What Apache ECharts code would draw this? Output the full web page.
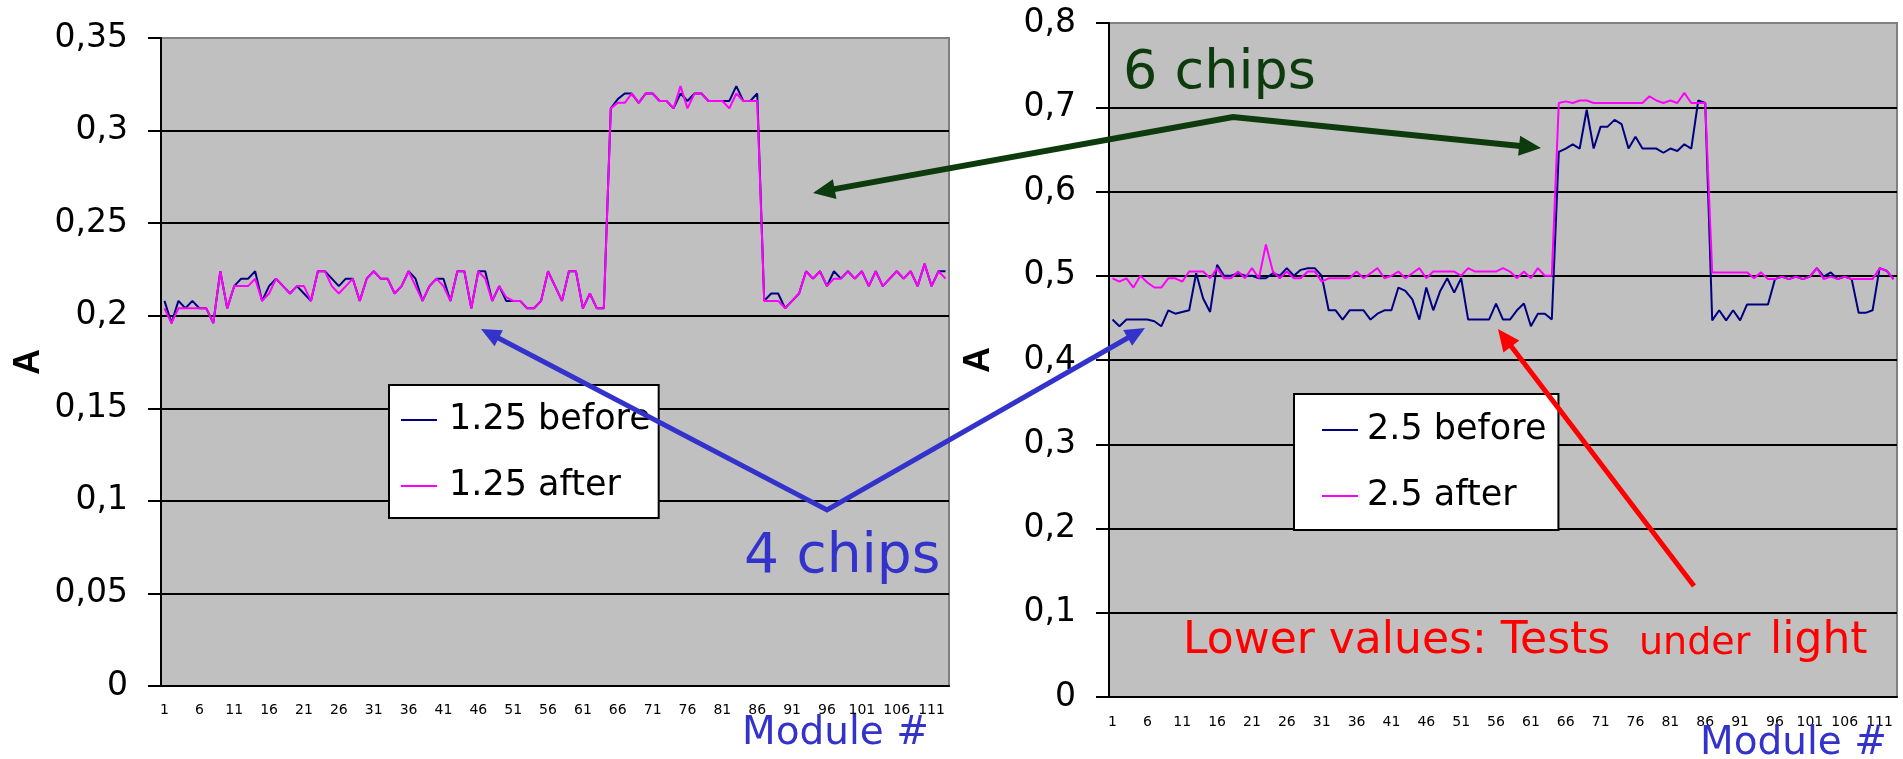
<!DOCTYPE html>
<html>
<head>
<meta charset="utf-8">
<title>Module current before / after</title>
<script src="https://cdn.jsdelivr.net/npm/echarts@6/dist/echarts.min.js"></script>
<style>
  html, body { margin: 0; padding: 0; background: #ffffff; }
  #chart { width: 1903px; height: 759px; }
</style>
</head>
<body>
<div id="chart"></div>
<script>
// x axis: module number 1..113
const modules = [];
for (let i = 1; i <= 113; i++) modules.push(String(i));

// left chart, 1.25 supply
const before125 = [
  0.208, 0.196, 0.208, 0.204, 0.208, 0.204, 0.204, 0.196, 0.224, 0.204,
  0.216, 0.22, 0.22, 0.224, 0.208, 0.216, 0.22, 0.216, 0.212, 0.216,
  0.212, 0.208, 0.224, 0.224, 0.22, 0.216, 0.22, 0.22, 0.208, 0.22,
  0.224, 0.22, 0.22, 0.212, 0.216, 0.224, 0.22, 0.208, 0.216, 0.22,
  0.22, 0.208, 0.224, 0.224, 0.204, 0.224, 0.224, 0.208, 0.216, 0.208,
  0.208, 0.208, 0.204, 0.204, 0.208, 0.224, 0.216, 0.208, 0.224, 0.224,
  0.204, 0.212, 0.204, 0.204, 0.312, 0.317, 0.32, 0.32, 0.315, 0.32,
  0.32, 0.316, 0.316, 0.312, 0.32, 0.316, 0.32, 0.32, 0.316, 0.316,
  0.316, 0.316, 0.324, 0.316, 0.316, 0.32, 0.208, 0.212, 0.212, 0.204,
  0.208, 0.212, 0.224, 0.22, 0.224, 0.216, 0.224, 0.22, 0.224, 0.22,
  0.224, 0.216, 0.224, 0.216, 0.22, 0.224, 0.22, 0.224, 0.216, 0.228,
  0.216, 0.224, 0.224
];
const after125 = [
  0.204, 0.196, 0.204, 0.204, 0.204, 0.204, 0.204, 0.196, 0.224, 0.204,
  0.216, 0.216, 0.216, 0.22, 0.208, 0.212, 0.22, 0.216, 0.212, 0.216,
  0.216, 0.208, 0.224, 0.224, 0.216, 0.212, 0.216, 0.22, 0.208, 0.22,
  0.224, 0.22, 0.22, 0.212, 0.216, 0.224, 0.216, 0.208, 0.216, 0.22,
  0.216, 0.208, 0.224, 0.224, 0.204, 0.224, 0.22, 0.208, 0.216, 0.21,
  0.208, 0.208, 0.204, 0.204, 0.208, 0.224, 0.216, 0.208, 0.224, 0.224,
  0.204, 0.212, 0.204, 0.204, 0.312, 0.315, 0.315, 0.32, 0.315, 0.32,
  0.32, 0.316, 0.316, 0.312, 0.324, 0.312, 0.32, 0.32, 0.316, 0.316,
  0.316, 0.312, 0.32, 0.316, 0.316, 0.316, 0.208, 0.208, 0.208, 0.204,
  0.208, 0.212, 0.224, 0.22, 0.224, 0.216, 0.22, 0.22, 0.224, 0.22,
  0.224, 0.216, 0.224, 0.216, 0.22, 0.224, 0.22, 0.224, 0.216, 0.228,
  0.216, 0.224, 0.22
];

// right chart, 2.5 supply
const before25 = [
  0.448, 0.44, 0.448, 0.448, 0.448, 0.448, 0.446, 0.44, 0.459, 0.455,
  0.457, 0.459, 0.503, 0.473, 0.457, 0.513, 0.5, 0.5, 0.503, 0.5,
  0.5, 0.497, 0.497, 0.503, 0.5, 0.509, 0.5, 0.507, 0.509, 0.509,
  0.5, 0.459, 0.459, 0.448, 0.459, 0.459, 0.459, 0.448, 0.455, 0.459,
  0.459, 0.486, 0.482, 0.472, 0.448, 0.486, 0.459, 0.482, 0.497, 0.48,
  0.497, 0.448, 0.448, 0.448, 0.448, 0.467, 0.448, 0.448, 0.459, 0.467,
  0.44, 0.455, 0.455, 0.448, 0.647, 0.651, 0.656, 0.651, 0.697, 0.651,
  0.677, 0.677, 0.685, 0.68, 0.651, 0.665, 0.651, 0.651, 0.651, 0.646,
  0.651, 0.648, 0.656, 0.651, 0.708, 0.705, 0.447, 0.459, 0.447, 0.459,
  0.447, 0.466, 0.466, 0.466, 0.466, 0.496, 0.499, 0.496, 0.499, 0.496,
  0.499, 0.509, 0.499, 0.504, 0.496, 0.499, 0.496, 0.456, 0.456, 0.459,
  0.509, 0.506, 0.496
];
const after25 = [
  0.497, 0.493, 0.497, 0.486, 0.5, 0.492, 0.486, 0.486, 0.497, 0.497,
  0.493, 0.505, 0.505, 0.505, 0.497, 0.509, 0.497, 0.497, 0.505, 0.497,
  0.509, 0.497, 0.537, 0.505, 0.497, 0.505, 0.497, 0.497, 0.505, 0.505,
  0.493, 0.497, 0.497, 0.497, 0.497, 0.505, 0.497, 0.503, 0.509, 0.497,
  0.5, 0.505, 0.497, 0.503, 0.509, 0.497, 0.505, 0.505, 0.505, 0.505,
  0.5, 0.509, 0.505, 0.505, 0.505, 0.505, 0.509, 0.505, 0.497, 0.505,
  0.497, 0.509, 0.5, 0.5, 0.705, 0.707, 0.705, 0.708, 0.708, 0.705,
  0.705, 0.705, 0.705, 0.705, 0.705, 0.705, 0.705, 0.713, 0.708, 0.705,
  0.708, 0.705, 0.717, 0.705, 0.705, 0.705, 0.504, 0.504, 0.504, 0.504,
  0.504, 0.504, 0.497, 0.504, 0.496, 0.496, 0.499, 0.496, 0.499, 0.496,
  0.499, 0.509, 0.496, 0.499, 0.496, 0.499, 0.496, 0.496, 0.496, 0.496,
  0.509, 0.506, 0.496
];

// y axis ranges [max, step]
const leftScale = [0.35, 0.05];
const rightScale = [0.8, 0.1];

const font = "DejaVu Sans";
const navy = "#000080";
const magenta = "#ff00ff";
const green = "#0e3b0e";
const blue = "#3333cc";
const red = "#ff0000";

const chart = echarts.init(document.getElementById("chart"));

const plotGrid = (left, top, height) => ({
  left, top, width: 788, height,
  show: true,
  backgroundColor: "#c0c0c0",
  borderColor: "#808080",
  borderWidth: 2,
  outerBoundsMode: "none"
});

const xAxisOf = (gridIndex, margin) => ({
  type: "category",
  gridIndex,
  data: modules,
  boundaryGap: true,
  axisLine: { lineStyle: { color: "#000", width: 2 } },
  axisTick: { interval: 0, length: 6, lineStyle: { color: "#000", width: 1 } },
  axisLabel: { interval: 4, margin, fontFamily: font, fontSize: 14, color: "#000" },
  splitLine: { show: false }
});

const yAxisOf = (gridIndex, scale, nameGap) => ({
  type: "value",
  gridIndex,
  min: 0,
  max: scale[0],
  interval: scale[1],
  name: "A",
  nameLocation: "middle",
  nameRotate: 90,
  nameGap,
  nameTextStyle: { fontFamily: "Liberation Sans", fontWeight: "bold", fontSize: 36, color: "#000" },
  axisLine: { show: true, lineStyle: { color: "#000", width: 2 } },
  axisTick: { show: true, length: 13, lineStyle: { color: "#000", width: 2 } },
  axisLabel: {
    margin: 33,
    fontFamily: font,
    fontSize: 33,
    color: "#000",
    formatter: v => String(v).replace(".", ",")
  },
  splitLine: { show: true, showMaxLine: false, lineStyle: { color: "#000", width: 2 } }
});

const lineSeries = (name, idx, data, color) => ({
  name,
  type: "line",
  xAxisIndex: idx,
  yAxisIndex: idx,
  data,
  symbol: "none",
  lineStyle: { color, width: 2 },
  itemStyle: { color },
  silent: true
});

const legendOf = (names, left, top, padding, textGap) => ({
  data: names,
  left, top,
  orient: "vertical",
  icon: "rect",
  itemWidth: 36,
  itemHeight: 2,
  itemGap: 26,
  padding,
  backgroundColor: "#ffffff",
  borderColor: "#000",
  borderWidth: 2,
  selectedMode: false,
  textStyle: { fontFamily: font, fontSize: 35, color: "#000", lineHeight: 40, padding: [0, 0, 0, textGap] }
});

// annotation arrows
function arrowHead(tip, from, len, half, color) {
  const dx = tip[0] - from[0], dy = tip[1] - from[1];
  const d = Math.hypot(dx, dy);
  const ux = dx / d, uy = dy / d;
  const bx = tip[0] - ux * len, by = tip[1] - uy * len;
  return {
    type: "polygon", z: 100,
    shape: { points: [tip, [bx - uy * half, by + ux * half], [bx + uy * half, by - ux * half]] },
    style: { fill: color }
  };
}
function trim(tip, from, len) {
  const dx = tip[0] - from[0], dy = tip[1] - from[1];
  const d = Math.hypot(dx, dy);
  return [tip[0] - dx / d * len, tip[1] - dy / d * len];
}
function vArrow(a, v, b, color, width, len, half) {
  return [
    {
      type: "polyline", z: 99,
      shape: { points: [trim(a, v, len * 0.6), v, trim(b, v, len * 0.6)] },
      style: { stroke: color, lineWidth: width, fill: null, lineJoin: "miter" }
    },
    arrowHead(a, v, len, half, color),
    arrowHead(b, v, len, half, color)
  ];
}
function label(text, x, y, size, color) {
  return {
    type: "text", z: 100, x, y,
    style: { text, fontFamily: font, fontSize: size, fill: color, verticalAlign: "middle", align: "left" }
  };
}

const redTail = [1694, 586], redTip = [1498, 329];

const option = {
  backgroundColor: "#ffffff",
  animation: false,
  grid: [plotGrid(161, 38, 648), plotGrid(1109, 23, 674)],
  xAxis: [xAxisOf(0, 17), xAxisOf(1, 18)],
  yAxis: [yAxisOf(0, leftScale, 114), yAxisOf(1, rightScale, 112)],
  legend: [
    legendOf(["1.25 before", "1.25 after"], 389, 385, [15, 8, 12, 12], 7),
    legendOf(["2.5 before", "2.5 after"], 1294, 394, [16, 12, 14, 28], 4)
  ],
  series: [
    lineSeries("1.25 before", 0, before125, navy),
    lineSeries("1.25 after", 0, after125, magenta),
    lineSeries("2.5 before", 1, before25, navy),
    lineSeries("2.5 after", 1, after25, magenta)
  ],
  graphic: {
    elements: [
      ...vArrow([813, 193], [1233, 117], [1541, 148], green, 6, 22, 10),
      ...vArrow([481, 329], [827, 510], [1145, 328], blue, 5, 20, 9),
      {
        type: "line", z: 99,
        shape: { x1: redTail[0], y1: redTail[1], x2: trim(redTip, redTail, 12)[0], y2: trim(redTip, redTail, 12)[1] },
        style: { stroke: red, lineWidth: 5 }
      },
      arrowHead(redTip, redTail, 22, 10, red),
      label("6 chips", 1123, 74, 54, green),
      label("4 chips", 744, 558, 55, blue),
      label("Module #", 742, 734, 39, blue),
      label("Module #", 1700, 744, 39, blue),
      label("Lower values: Tests", 1183, 642, 44, red),
      label("under", 1639, 644, 38, red),
      label("light", 1770, 642, 44, red)
    ]
  }
};

chart.setOption(option);
</script>
</body>
</html>
